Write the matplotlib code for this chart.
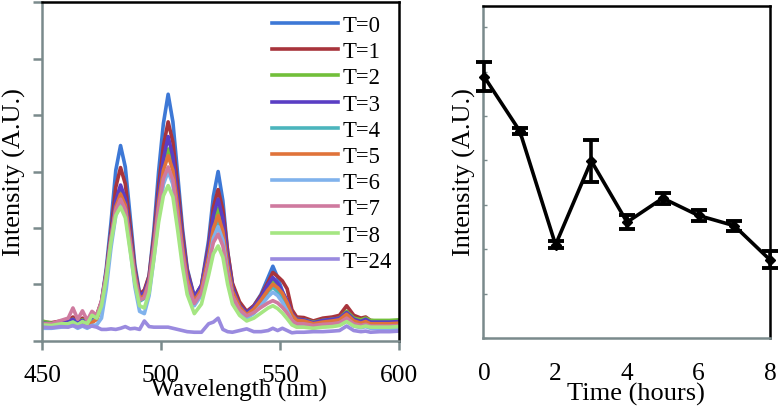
import matplotlib
matplotlib.use("Agg")
import matplotlib.pyplot as plt

plt.rcParams['font.family'] = ['Liberation Serif', 'DejaVu Serif']

# ---------------- data: left panel (spectra) ----------------
wavelength = [450, 454, 458, 461, 463, 465, 467, 469, 471, 473, 475, 477, 479, 481, 483, 485, 487, 489, 491, 493,
              495, 497, 499, 501, 503, 505, 507, 509, 511, 514, 517, 520, 522, 524, 526, 528, 530, 533, 536, 539,
              542, 545, 547, 549, 551, 553, 555, 557, 560, 564, 568, 572, 575, 578, 581, 584, 586, 588, 592, 596, 600]

t0 = [0.30, 0.30, 0.33, 0.35, 0.40, 0.33, 0.38, 0.32, 0.38, 0.42, 0.68, 1.28, 2.10, 3.02, 3.46, 3.08, 2.22, 1.35, 0.84, 0.86,
      1.15, 1.95, 3.00, 3.85, 4.37, 3.88, 2.95, 2.00, 1.28, 0.78, 0.98, 1.78, 2.56, 3.00, 2.48, 1.58, 1.00, 0.62, 0.50, 0.62,
      0.82, 1.12, 1.32, 1.12, 0.88, 0.64, 0.45, 0.38, 0.36, 0.32, 0.36, 0.37, 0.40, 0.50, 0.40, 0.35, 0.38, 0.32, 0.32, 0.32, 0.33]
t1 = [0.33, 0.32, 0.35, 0.36, 0.42, 0.35, 0.40, 0.34, 0.40, 0.45, 0.70, 1.22, 1.95, 2.72, 3.07, 2.78, 2.05, 1.28, 0.82, 0.90,
      1.15, 1.85, 2.75, 3.45, 3.88, 3.52, 2.75, 1.90, 1.25, 0.76, 0.98, 1.68, 2.36, 2.68, 2.32, 1.58, 1.02, 0.69, 0.52, 0.62,
      0.80, 1.04, 1.21, 1.14, 1.06, 0.92, 0.55, 0.42, 0.41, 0.35, 0.40, 0.42, 0.45, 0.62, 0.45, 0.40, 0.42, 0.36, 0.34, 0.35, 0.35]
t2 = [0.35, 0.31, 0.33, 0.34, 0.38, 0.33, 0.37, 0.33, 0.42, 0.45, 0.67, 1.16, 1.80, 2.42, 2.70, 2.46, 1.84, 1.18, 0.74, 0.80,
      1.05, 1.70, 2.50, 3.06, 3.40, 3.10, 2.44, 1.68, 1.10, 0.68, 0.88, 1.52, 2.06, 2.35, 2.02, 1.36, 0.88, 0.62, 0.45, 0.55,
      0.72, 0.92, 1.05, 0.94, 0.80, 0.63, 0.45, 0.38, 0.37, 0.33, 0.36, 0.38, 0.40, 0.52, 0.40, 0.37, 0.40, 0.36, 0.36, 0.36, 0.37]
t3 = [0.31, 0.30, 0.32, 0.34, 0.38, 0.32, 0.36, 0.31, 0.36, 0.42, 0.68, 1.18, 1.85, 2.48, 2.76, 2.52, 1.90, 1.22, 0.80, 0.86,
      1.10, 1.75, 2.60, 3.22, 3.62, 3.26, 2.55, 1.78, 1.20, 0.77, 0.98, 1.62, 2.22, 2.51, 2.16, 1.46, 0.95, 0.62, 0.50, 0.60,
      0.77, 1.00, 1.12, 1.02, 0.87, 0.71, 0.48, 0.38, 0.37, 0.32, 0.36, 0.38, 0.40, 0.50, 0.38, 0.34, 0.38, 0.33, 0.33, 0.33, 0.34]
t4 = [0.27, 0.27, 0.29, 0.30, 0.33, 0.29, 0.32, 0.29, 0.34, 0.38, 0.62, 1.10, 1.75, 2.32, 2.55, 2.32, 1.75, 1.12, 0.70, 0.75,
      1.00, 1.60, 2.30, 2.82, 3.05, 2.82, 2.24, 1.58, 1.05, 0.65, 0.85, 1.42, 1.92, 2.15, 1.86, 1.28, 0.83, 0.55, 0.42, 0.52,
      0.68, 0.87, 0.95, 0.87, 0.74, 0.59, 0.42, 0.33, 0.32, 0.28, 0.31, 0.32, 0.34, 0.44, 0.33, 0.30, 0.33, 0.29, 0.28, 0.28, 0.29]
t5 = [0.25, 0.24, 0.27, 0.26, 0.31, 0.25, 0.30, 0.26, 0.32, 0.38, 0.64, 1.14, 1.80, 2.37, 2.60, 2.40, 1.80, 1.17, 0.74, 0.80,
      1.05, 1.68, 2.45, 3.02, 3.28, 3.02, 2.37, 1.66, 1.10, 0.70, 0.91, 1.49, 1.99, 2.22, 1.94, 1.34, 0.88, 0.60, 0.46, 0.56,
      0.72, 0.90, 1.00, 0.94, 0.84, 0.67, 0.46, 0.36, 0.35, 0.30, 0.33, 0.35, 0.37, 0.47, 0.35, 0.31, 0.34, 0.30, 0.30, 0.30, 0.31]
t6 = [0.22, 0.22, 0.24, 0.25, 0.27, 0.22, 0.26, 0.22, 0.27, 0.28, 0.40, 0.92, 1.65, 2.22, 2.45, 2.27, 1.65, 0.96, 0.52, 0.48,
      0.80, 1.45, 2.20, 2.77, 3.00, 2.77, 2.14, 1.48, 0.96, 0.62, 0.81, 1.37, 1.82, 2.02, 1.78, 1.21, 0.78, 0.52, 0.40, 0.48,
      0.62, 0.78, 0.86, 0.80, 0.68, 0.53, 0.36, 0.28, 0.26, 0.23, 0.25, 0.26, 0.28, 0.35, 0.26, 0.23, 0.25, 0.22, 0.21, 0.21, 0.21]
t7 = [0.30, 0.30, 0.36, 0.40, 0.58, 0.38, 0.53, 0.36, 0.52, 0.45, 0.70, 1.18, 1.82, 2.32, 2.51, 2.32, 1.75, 1.12, 0.72, 0.76,
      1.03, 1.65, 2.35, 2.87, 3.08, 2.85, 2.21, 1.55, 1.02, 0.66, 0.85, 1.36, 1.74, 1.89, 1.68, 1.18, 0.79, 0.55, 0.44, 0.50,
      0.59, 0.67, 0.71, 0.67, 0.59, 0.49, 0.36, 0.30, 0.30, 0.27, 0.29, 0.30, 0.32, 0.40, 0.30, 0.27, 0.29, 0.26, 0.26, 0.26, 0.27]
t8 = [0.28, 0.27, 0.30, 0.30, 0.33, 0.28, 0.34, 0.30, 0.45, 0.40, 0.62, 1.10, 1.75, 2.22, 2.37, 2.18, 1.60, 1.02, 0.62, 0.58,
      0.85, 1.45, 2.10, 2.57, 2.75, 2.55, 1.96, 1.32, 0.82, 0.48, 0.65, 1.16, 1.54, 1.68, 1.48, 1.00, 0.65, 0.45, 0.35, 0.40,
      0.49, 0.58, 0.62, 0.57, 0.49, 0.39, 0.28, 0.24, 0.24, 0.22, 0.24, 0.25, 0.27, 0.34, 0.26, 0.24, 0.26, 0.24, 0.24, 0.24, 0.25]
t24 = [0.24, 0.23, 0.25, 0.24, 0.27, 0.24, 0.27, 0.24, 0.26, 0.24, 0.20, 0.20, 0.21, 0.20, 0.22, 0.25, 0.21, 0.22, 0.20, 0.35,
       0.25, 0.24, 0.24, 0.24, 0.24, 0.22, 0.20, 0.18, 0.16, 0.15, 0.15, 0.30, 0.33, 0.40, 0.20, 0.16, 0.15, 0.18, 0.21, 0.16,
       0.16, 0.18, 0.22, 0.18, 0.22, 0.18, 0.14, 0.15, 0.15, 0.16, 0.16, 0.17, 0.18, 0.26, 0.18, 0.16, 0.17, 0.15, 0.16, 0.16, 0.17]

series_labels = ["T=0", "T=1", "T=2", "T=3", "T=4", "T=5", "T=6", "T=7", "T=8", "T=24"]
series_values = [t0, t1, t2, t3, t4, t5, t6, t7, t8, t24]
series_colors = ["#3d78d6", "#a8343c", "#72bf3a", "#5a3ec4", "#4bb5bd", "#e0733a",
                 "#80b2ec", "#cf7a9f", "#a5e682", "#9a8adf"]

wl_ticks = [450, 500, 550, 600]

# ---------------- data: right panel ----------------
hours = [0, 1, 2, 3, 4, 5, 6, 7, 8]
intensity = [5.89, 4.66, 2.10, 3.99, 2.61, 3.15, 2.76, 2.53, 1.76]
intensity_err = [0.32, 0.07, 0.08, 0.48, 0.15, 0.12, 0.12, 0.11, 0.19]
hour_ticks = [0, 2, 4, 6, 8]

# ---------------- figure ----------------
W, H = 778, 414
fig = plt.figure(figsize=(W / 100, H / 100), dpi=100)
gray = "#7a8a8c"

ax1 = fig.add_axes([42 / W, 1 - 341.7 / H, 357 / W, 338.4 / H])
for lab, vals, col in zip(series_labels, series_values, series_colors):
    ax1.plot(wavelength, vals, color=col, lw=2.6, label=lab, solid_joinstyle='round')
ax1.set_xlim(450, 600)
ax1.set_ylim(0, 6)
ax1.set_xticks(wl_ticks)
ax1.set_xticklabels([str(v) for v in wl_ticks])
ax1.set_yticks(range(0, 7))
ax1.set_yticklabels([])
ax1.tick_params(axis='both', direction='out', color=gray, width=1.8, length=6.5,
                labelsize=18.3, pad=10)
ax1.spines['left'].set_color(gray)
ax1.spines['bottom'].set_color(gray)
ax1.spines['top'].set_color('black')
ax1.spines['right'].set_color('black')
for s in ax1.spines.values():
    s.set_linewidth(1.8)
ax1.set_xlabel("Wavelength (nm)", fontsize=18.3)
ax1.xaxis.set_label_coords(0.553, -0.111)
ax1.set_ylabel("Intensity (A.U.)", fontsize=19)
ax1.yaxis.set_label_coords(-0.045, 0.5)
leg = ax1.legend(loc='upper left', bbox_to_anchor=(0.632, 0.976), frameon=False,
                 fontsize=16.3, handlelength=2.9, handletextpad=0.22,
                 labelspacing=0.23, borderaxespad=0, borderpad=0.2)

ax2 = fig.add_axes([483 / W, 1 - 339 / H, 287 / W, 332 / H])
ax2.errorbar(hours, intensity, yerr=intensity_err, color='black', lw=2.6,
             marker='D', markersize=5, capsize=5.5, capthick=2.8, elinewidth=2.6,
             clip_on=False, zorder=3)
ax2.set_xlim(-0.03, 8.0)
ax2.set_ylim(0, 7.48)
ax2.set_xticks(hour_ticks)
ax2.set_yticks(range(0, 8))
ax2.set_yticklabels([])
ax2.tick_params(axis='y', direction='in', color=gray, width=1.0, length=3)
ax2.tick_params(axis='x', length=0, labelsize=18.3, pad=17.5)
ax2.spines['left'].set_color(gray)
ax2.spines['bottom'].set_color(gray)
ax2.spines['top'].set_color('black')
ax2.spines['right'].set_color('black')
for s in ax2.spines.values():
    s.set_linewidth(1.8)
ax2.set_xlabel("Time (hours)", fontsize=19)
ax2.xaxis.set_label_coords(0.532, -0.1334)
ax2.set_ylabel("Intensity (A.U.)", fontsize=19)
ax2.yaxis.set_label_coords(-0.0244, 0.504)

fig.savefig("out.png", dpi=100)
